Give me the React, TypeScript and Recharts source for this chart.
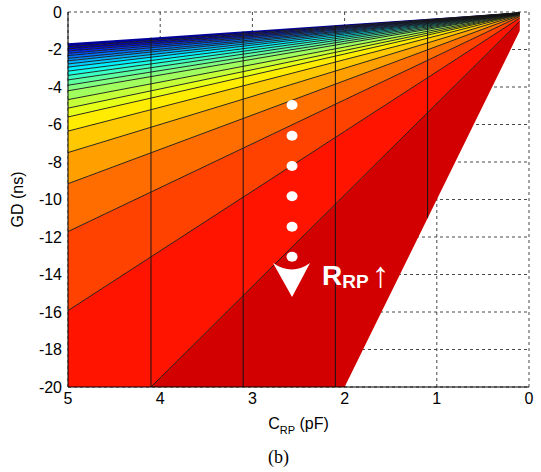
import React from 'react';
import {
  ComposedChart,
  Area,
  Line,
  XAxis,
  YAxis,
  CartesianGrid,
  ReferenceLine,
  ReferenceDot,
  Scatter,
  Label,
} from 'recharts';

// Contour boundaries, as C / |GD| (pF per ns),
// from the bottom-right edge of the filled region up to its top edge.
const levelRatios = [
  0.1, 0.205, 0.314, 0.427, 0.546, 0.667, 0.787, 0.893, 0.975, 1.07, 1.19, 1.28,
  1.38, 1.48, 1.585, 1.7, 1.805, 1.92, 2.02, 2.15, 2.27, 2.4, 2.54, 2.7, 3.0,
];

// Fill colours of the bands (bottom band first), jet-like colormap
const bandColors = [
  '#d20000', '#ff1400', '#ff4200', '#ff6c00', '#ffa000', '#ffc800', '#ffec00', '#e6ff18',
  '#c4ff3a', '#a0ff5e', '#80ff80', '#5effa0', '#3cffc2', '#18ffe6', '#00f0ff', '#00d0ff',
  '#00b0ff', '#0090ff', '#0070ff', '#0050ff', '#0030ff', '#0010f0', '#0000c8', '#00009a',
];

const cStart = 0.1; // pF, first column of the contour data
const cEnd = 5; // pF
const gdMin = -20; // ns
const verticalLineC = [4.1, 3.1, 2.1, 1.1];
const dotC = 2.57;
const dotGD = [-4.96, -6.6, -8.21, -9.83, -11.45, -13.05];
const arrowHead = { c: 2.57, gd: -14.29 };
const annotationAnchor = { c: 2.245, gd: -14.56 };
const xTicks = [0, 1, 2, 3, 4, 5];
const yTicks = [0, -2, -4, -6, -8, -10, -12, -14, -16, -18, -20];

const FONT = '"Liberation Sans", Arial, sans-serif';

const gdOn = (c: number, ratio: number) => -c / ratio;
const clip = (v: number) => Math.max(v, gdMin);

// sample columns: ends of range plus points where a boundary meets GD = -20
const kinkCs = levelRatios.map((r) => -gdMin * r).filter((c) => c > cStart && c < cEnd);
const sampleCs = [cStart, ...kinkCs, cEnd].sort((a, b) => a - b);

const rows = sampleCs.map((c) => {
  const row: Record<string, any> = { c };
  for (let i = 0; i < levelRatios.length - 1; i++) {
    row['b' + i] = [clip(gdOn(c, levelRatios[i])), clip(gdOn(c, levelRatios[i + 1]))];
  }
  for (let j = 1; j < levelRatios.length - 1; j++) {
    const v = gdOn(c, levelRatios[j]);
    row['l' + j] = v >= gdMin - 1e-6 ? clip(v) : null;
  }
  return row;
});

const dotRows = dotGD.map((gd) => ({ c: dotC, gd }));

const topRatio = levelRatios[levelRatios.length - 1];
const bottomRatio = levelRatios[0];

const bandIdx = bandColors.map((_, i) => i);
const lineIdx = levelRatios.slice(1, -1).map((_, k) => k + 1);

export default function App() {
  return (
    <div style={{ position: 'absolute', left: 0, top: 0, width: 541, height: 472, background: '#fff' }}>
      <ComposedChart
        width={541}
        height={472}
        data={rows}
        margin={{ top: 12, right: 12, bottom: 55, left: 0 }}
      >
        <CartesianGrid strokeDasharray="3 3" stroke="#333" strokeWidth={0.9} />
        {bandIdx.map((i) => (
          <Area
            key={'b' + i}
            type="linear"
            dataKey={'b' + i}
            stroke="none"
            fill={bandColors[i]}
            fillOpacity={1}
            isAnimationActive={false}
            dot={false}
            activeDot={false}
          />
        ))}
        {lineIdx.map((j) => (
          <Line
            key={'l' + j}
            type="linear"
            dataKey={'l' + j}
            stroke="#151515"
            strokeWidth={0.9}
            dot={false}
            activeDot={false}
            isAnimationActive={false}
            connectNulls={false}
          />
        ))}
        {verticalLineC.map((c) => (
          <ReferenceLine
            key={'v' + c}
            segment={[
              { x: c, y: gdOn(c, topRatio) },
              { x: c, y: clip(gdOn(c, bottomRatio)) },
            ]}
            stroke="#151515"
            strokeWidth={1}
          />
        ))}
        <Scatter
          data={dotRows}
          dataKey="gd"
          fill="#fff"
          isAnimationActive={false}
          shape={(p: any) => <ellipse cx={p.cx} cy={p.cy} rx={5.5} ry={5} fill="#fff" />}
        />
        <ReferenceDot
          x={arrowHead.c}
          y={arrowHead.gd}
          r={1}
          shape={(p: any) => (
            <path
              d={`M${p.cx - 19},${p.cy - 17} Q${p.cx},${p.cy - 4} ${p.cx + 18},${p.cy - 17} L${p.cx},${p.cy + 17} Z`}
              fill="#fff"
            />
          )}
        />
        <ReferenceDot
          x={annotationAnchor.c}
          y={annotationAnchor.gd}
          r={1}
          shape={(p: any) => (
            <text x={p.cx} y={p.cy} fill="#fff" fontFamily={FONT} fontWeight="bold">
              <tspan fontSize={28}>R</tspan>
              <tspan fontSize={19} dy={3}>RP</tspan>
              <tspan fontSize={36} fontWeight="normal" dx={3} dy={-1}>↑</tspan>
            </text>
          )}
        />
        <XAxis
          type="number"
          dataKey="c"
          domain={[0, 5]}
          reversed
          ticks={xTicks}
          interval={0}
          allowDataOverflow
          tickLine={false}
          tickSize={0}
          tickMargin={6}
          height={30}
          axisLine={{ stroke: '#000', strokeWidth: 1 }}
          tick={{ fontSize: 16, fill: '#000', fontFamily: FONT }}
        >
          <Label
            content={(props: any) => {
              const vb = props.viewBox || {};
              const cx = vb.x + vb.width / 2;
              return (
                <g>
                  <text x={cx} y={vb.y + 42} textAnchor="middle" fontFamily={FONT} fontSize={16} fill="#000">
                    <tspan>C</tspan>
                    <tspan fontSize={11} dy={5}>RP</tspan>
                    <tspan dy={-5}> (pF)</tspan>
                  </text>
                  <text
                    x={cx - 20}
                    y={vb.y + 76}
                    textAnchor="middle"
                    fontFamily='"Liberation Serif", "Times New Roman", serif'
                    fontSize={18}
                    fill="#000"
                  >
                    (b)
                  </text>
                </g>
              );
            }}
          />
        </XAxis>
        <YAxis
          type="number"
          domain={[gdMin, 0]}
          ticks={yTicks}
          interval={0}
          allowDataOverflow
          tickLine={false}
          tickSize={0}
          tickMargin={6}
          width={68}
          axisLine={{ stroke: '#000', strokeWidth: 1 }}
          tick={{ fontSize: 16, fill: '#000', fontFamily: FONT }}
        >
          <Label
            content={(props: any) => {
              const vb = props.viewBox || {};
              const x = vb.x + 17;
              const y = vb.y + vb.height / 2;
              return (
                <text
                  x={x}
                  y={y}
                  transform={`rotate(-90, ${x}, ${y})`}
                  textAnchor="middle"
                  dominantBaseline="central"
                  fontFamily={FONT}
                  fontSize={16}
                  fill="#000"
                >
                  GD (ns)
                </text>
              );
            }}
          />
        </YAxis>
      </ComposedChart>
    </div>
  );
}
